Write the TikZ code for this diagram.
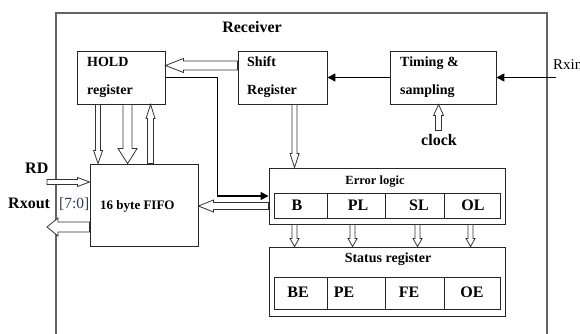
\documentclass[tikz,border=0pt]{standalone}
\usepackage{fontspec}
\setmainfont{Liberation Serif}
\usetikzlibrary{calc,arrows.meta}
\definecolor{framegray}{RGB}{100,100,100}
\definecolor{slate}{RGB}{50,60,90}
\tikzset{
  box/.style={draw=black!85, line width=0.9pt, inner sep=0pt, fill=white},
  lbl/.style={font=\bfseries\fontsize{14}{16}\selectfont, inner sep=0pt},
  big/.style={font=\bfseries\fontsize{16}{18}\selectfont, inner sep=0pt},
  hollow/.style={draw=black!80, line width=0.8pt, fill=white, line join=miter},
  blackarrow/.style={line width=1.6pt, -{Triangle[length=8pt,width=8pt]}},
}
% hollow arrow: #1 from, #2 to, #3 half shaft, #4 half head, #5 head length
\newcommand\harrow[5]{%
  \draw[hollow] let \p1=(#1), \p2=(#2),
    \n1={veclen(\x2-\x1,\y2-\y1)},
    \p3=({(\x2-\x1)/\n1},{(\y2-\y1)/\n1})
    in ({\x1-#3*(\y3)},{\y1+#3*(\x3)})
    -- ({\x2-#5*(\x3)-#3*(\y3)},{\y2-#5*(\y3)+#3*(\x3)})
    -- ({\x2-#5*(\x3)-#4*(\y3)},{\y2-#5*(\y3)+#4*(\x3)})
    -- (\p2)
    -- ({\x2-#5*(\x3)+#4*(\y3)},{\y2-#5*(\y3)-#4*(\x3)})
    -- ({\x2-#5*(\x3)+#3*(\y3)},{\y2-#5*(\y3)-#3*(\x3)})
    -- ({\x1+#3*(\y3)},{\y1-#3*(\x3)}) -- cycle;}
\begin{document}
\begin{tikzpicture}[x=1pt,y=-1pt]
\useasboundingbox (0,0) rectangle (580,334);
% receiver frame
\coordinate (fbl) at (56,340);
\coordinate (ftl) at (56,13);
\coordinate (ftr) at (547,13);
\coordinate (fbr) at (547,340);
\draw[framegray, line width=1.2pt] (fbl) -- (ftl) -- (ftr) -- (fbr);
\node[big, anchor=base] (rcv) at (252,32.5) {Receiver};

% boxes
\node[box, minimum width=88pt, minimum height=53pt] (hold) at (121,77.5) {};
\node[box, minimum width=89pt, minimum height=53pt] (shift) at (282.5,77.5) {};
\node[box, minimum width=106pt, minimum height=53pt] (timing) at (443,77.5) {};
\node[box, minimum width=108pt, minimum height=82pt] (fifo) at (144,205) {};
\node[box, minimum width=236pt, minimum height=56pt] (err) at (387,196) {};
\node[box, minimum width=236pt, minimum height=69pt] (st) at (387,281.5) {};

% error cells
\node[box, minimum width=53pt, minimum height=25pt] (eB) at (300.5,205.5) {};
\node[box, minimum width=58pt, minimum height=25pt] (ePL) at (356,205.5) {};
\node[box, minimum width=59pt, minimum height=25pt] (eSL) at (414.5,205.5) {};
\node[box, minimum width=56pt, minimum height=25pt] (eOL) at (472,205.5) {};
% status cells
\node[box, minimum width=53pt, minimum height=32pt] (sBE) at (300.5,293) {};
\node[box, minimum width=58pt, minimum height=32pt] (sPE) at (356,293) {};
\node[box, minimum width=59pt, minimum height=32pt] (sFE) at (414.5,293) {};
\node[box, minimum width=56pt, minimum height=32pt] (sOE) at (472,293) {};

% texts
\node[lbl, anchor=base west] (tHold) at (87,67) {HOLD};
\node[lbl, anchor=base west] (tHreg) at (87,94.5) {register};
\node[lbl, anchor=base west] (tShift) at (247,67) {Shift};
\node[lbl, anchor=base west] (tSreg) at (247,94.5) {Register};
\node[lbl, anchor=base west] (tTim) at (400,67) {Timing \&};
\node[lbl, anchor=base west] (tSamp) at (400,95) {sampling};
\node[big, anchor=base] (clk) at (439,145) {clock};
\node[big, anchor=base west] (rd) at (25,173) {RD};
\node[big, anchor=base west] (rxout) at (8,208) {Rxout};
\node[inner sep=0pt, anchor=base west, text=slate, font=\fontsize{15.5}{17}\selectfont] (bits) at (59,208) {[7:0]};
\node[inner sep=0pt, anchor=base west, font=\bfseries\fontsize{13}{15}\selectfont] (tFifo) at (100,209) {16 byte FIFO};
\node[inner sep=0pt, anchor=base, font=\bfseries\fontsize{12.5}{14}\selectfont] (tErr) at (375,184) {Error logic};
\node[lbl, anchor=base] (tSt) at (388,262.7) {Status register};
\node[inner sep=0pt, anchor=west, font=\fontsize{15}{17}\selectfont] (rxin) at (553,65) {Rxin};

\node[big, anchor=base] (lB) at (297,210.7) {B};
\node[big, anchor=base] (lPL) at (358,210.7) {PL};
\node[big, anchor=base] (lSL) at (419,210.7) {SL};
\node[big, anchor=base] (lOL) at (473,210.7) {OL};
\node[big, anchor=base] (lBE) at (298,297.3) {BE};
\node[big, anchor=base] (lPE) at (344,297.3) {PE};
\node[big, anchor=base] (lFE) at (409,297.3) {FE};
\node[big, anchor=base] (lOE) at (472,297.3) {OE};

% black arrows
\coordinate (rxinend) at (556,77.5);
\draw[blackarrow] (rxinend) -- (timing.east);
\draw[blackarrow] (timing.west) -- (shift.east);
\draw[line width=1.6pt, -{Triangle[length=8pt,width=8pt]}, line join=miter] (hold.east) -- ++(52,0) |- (err.west);

% hollow arrows
\harrow{shift.west |- 0,65.5}{hold.east |- 0,65.5}{4.5}{7}{18}
\harrow{$(hold.south west)+(21.5,0)$}{$(fifo.north west)+(8.5,0)$}{2.5}{4.5}{13}
\harrow{$(hold.south west)+(51,0)$}{$(fifo.north west)+(38,0)$}{4.5}{9.5}{15}
\harrow{$(fifo.north west)+(61,0)$}{$(hold.south west)+(74,0)$}{3}{4.5}{14}
\coordinate (rdstart) at (47,182);
\harrow{rdstart}{fifo.west |- rdstart}{2.5}{4.5}{12}
\coordinate (rxoutend) at (47,227);
\harrow{fifo.west |- rxoutend}{rxoutend}{5}{9}{11}
\harrow{err.west |- 0,206}{fifo.east |- 0,206}{3.5}{6}{15}
\harrow{$(shift.south west)+(57,0)$}{$(err.north west)+(26,0)$}{2.5}{4.5}{14}
\harrow{$(timing.south west)+(49,26)$}{$(timing.south west)+(49,0)$}{3}{5}{11}
\harrow{$(err.south west)+(26,0)$}{$(st.north west)+(26,0)$}{2.5}{4.5}{8}
\harrow{$(err.south west)+(84,0)$}{$(st.north west)+(84,0)$}{2.5}{4.5}{8}
\harrow{$(err.south west)+(149,0)$}{$(st.north west)+(149,0)$}{2.5}{4.5}{8}
\harrow{$(err.south west)+(202,0)$}{$(st.north west)+(202,0)$}{2.5}{4.5}{8}
\end{tikzpicture}
\end{document}
